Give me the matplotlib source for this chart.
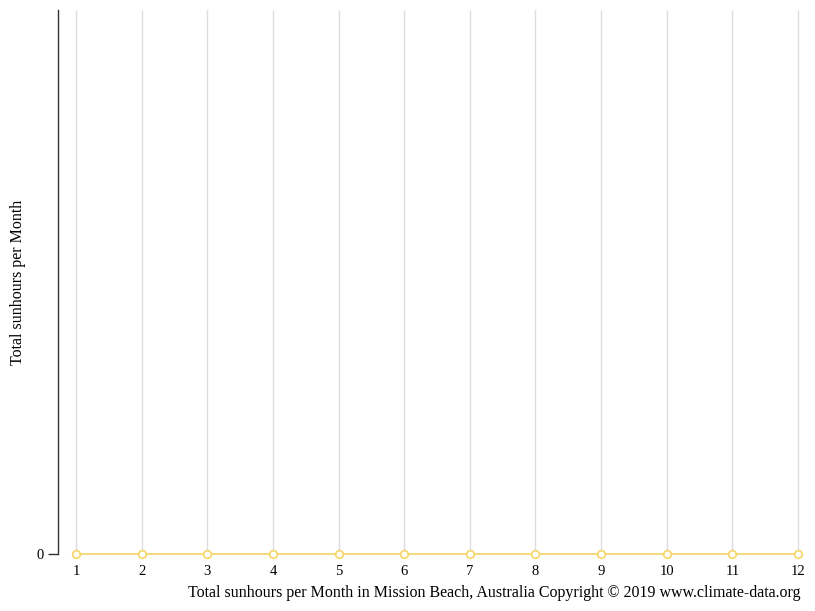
import matplotlib
matplotlib.use("Agg")
import matplotlib.pyplot as plt

months = list(range(1, 13))
sunhours = [0, 0, 0, 0, 0, 0, 0, 0, 0, 0, 0, 0]
title = "Total sunhours per Month in Mission Beach, Australia Copyright \u00a9 2019 www.climate-data.org"
y_label = "Total sunhours per Month"

plt.rcParams["font.family"] = ["Liberation Serif", "DejaVu Serif"]

W, H = 815, 611
fig = plt.figure(figsize=(W / 100, H / 100), dpi=100)
ax = fig.add_axes([58 / W, 57 / H, (800 - 58) / W, (601 - 57) / H])

step = (798 - 76) / 11
ax.set_xlim(1 - 18 / step, 12 + 2 / step)
ax.set_ylim(0, 1)

for m in months:
    ax.axvline(m, color="#dddddd", lw=1, zorder=1)

ax.plot(months, sunhours, color="#f5d76e", lw=1.3, marker="o", markersize=5.5,
        markerfacecolor="white", markeredgecolor="#f5d76e", markeredgewidth=1.3,
        clip_on=False, zorder=3)

for side in ["top", "right", "bottom"]:
    ax.spines[side].set_visible(False)
ax.spines["left"].set_color("#333333")
ax.spines["left"].set_linewidth(1)

ax.set_xticks(months)
ax.set_xticklabels([str(m) for m in months])
ax.tick_params(axis="x", length=0, pad=8, labelsize=10.5)
ax.set_yticks([0])
ax.set_yticklabels(["0"])
ax.tick_params(axis="y", length=7.5, width=1, color="#333333", pad=3, labelsize=10.5)

fig.text(18.5 / W, 1 - 282 / H, y_label, rotation=90, ha="center", va="center", fontsize=11.5)
fig.text(801 / W, 1 - 593 / H, title, ha="right", va="center", fontsize=11.5)

fig.savefig("out.png", dpi=100)
